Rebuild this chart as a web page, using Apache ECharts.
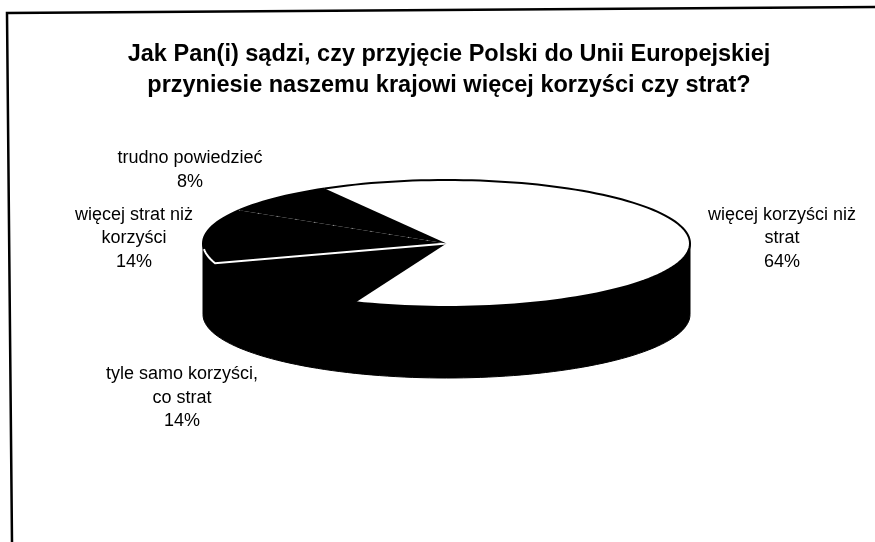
<!DOCTYPE html>
<html>
<head>
<meta charset="utf-8">
<style>
  html, body { margin: 0; padding: 0; background: #fff; }
  #chart { width: 875px; height: 542px; }
</style>
<script src="https://cdn.jsdelivr.net/npm/echarts@6/dist/echarts.min.js"></script>
</head>
<body>
<div id="chart"></div>
<script>
const titleLines = [
  'Jak Pan(i) sądzi, czy przyjęcie Polski do Unii Europejskiej',
  'przyniesie naszemu krajowi więcej korzyści czy strat?'
]
// in drawing order, clockwise from the top of the pie
const categories = [
  'więcej korzyści niż\nstrat',
  'tyle samo korzyści,\nco strat',
  'więcej strat niż\nkorzyści',
  'trudno powiedzieć'
]
// shares, the printed labels are these rounded
const shares = [64.4, 13.9, 13.8, 7.9]
const sliceColors = ['#ffffff', '#000000', '#000000', '#000000']

// label centres in pixels
const labelCentres = [[782, 238.5], [182, 398], [134, 238.5], [190, 170]]

const startAngle = 120   // degrees, slices run clockwise
const pieDepth = 1.12    // wall height, in units of the vertical radius

const rad = (d) => d * Math.PI / 180
const total = shares.reduce((a, b) => a + b, 0)

const chart = echarts.init(document.getElementById('chart'), null, { renderer: 'canvas' })

function arcPoints(api, from, to, drop) {
  const pts = []
  const steps = Math.max(2, Math.ceil(Math.abs(to - from) / 2))
  for (let i = 0; i <= steps; i++) {
    const t = rad(from + (to - from) * i / steps)
    pts.push(api.coord([Math.cos(t), Math.sin(t) - drop]))
  }
  return pts
}

function wallItem(params, api) {
  // whole front half of the rim pushed down by the depth
  const top = arcPoints(api, 180, 360, 0)
  const bottom = arcPoints(api, 360, 180, pieDepth)
  return {
    type: 'polygon',
    shape: { points: top.concat(bottom) },
    style: { fill: '#000', stroke: '#000', lineWidth: 1 }
  }
}

function sliceItem(params, api) {
  const i = params.dataIndex
  const before = shares.slice(0, i).reduce((a, b) => a + b, 0)
  const from = startAngle - before / total * 360
  const to = from - api.value(1) / total * 360
  const apex = api.coord([0, 0])
  const children = [{
    type: 'polygon',
    shape: { points: [apex].concat(arcPoints(api, from, to, 0)) },
    style: { fill: sliceColors[i], stroke: 'none' }
  }, {
    type: 'polyline',
    shape: { points: arcPoints(api, from, to, 0) },
    style: { fill: 'none', stroke: '#000', lineWidth: 2 }
  }, {
    type: 'text',
    style: {
      x: labelCentres[i][0],
      y: labelCentres[i][1],
      text: categories[i] + '\n' + Math.round(api.value(1)) + '%',
      align: 'center',
      verticalAlign: 'middle',
      fill: '#000',
      font: '18px "Liberation Sans", Arial, sans-serif',
      lineHeight: 23.5
    }
  }]
  if (i === 2) {
    // white edge the original has between the two lower black slices
    children.push({
      type: 'polyline',
      shape: { points: [apex].concat(arcPoints(api, from, from - 13, 0)) },
      style: { fill: 'none', stroke: '#fff', lineWidth: 2 }
    })
  }
  if (i === 3) {
    // only specks of this edge survive in the original
    children.push({
      type: 'polyline',
      shape: { points: [apex, arcPoints(api, from, from, 0)[0]] },
      style: { fill: 'none', stroke: '#fff', lineWidth: 1, lineDash: [1, 18], opacity: 0.5 }
    })
  }
  return { type: 'group', children }
}

chart.setOption({
  animation: false,
  backgroundColor: '#fff',
  title: {
    text: titleLines.join('\n'),
    left: 444,
    top: 34,
    textAlign: 'center',
    textStyle: {
      fontFamily: '"Liberation Sans", Arial, sans-serif',
      fontSize: 23.5,
      fontWeight: 'bold',
      color: '#000',
      lineHeight: 31
    }
  },
  // unit circle on these axes comes out as the flattened top of the pie
  grid: { left: 203, top: 180, width: 487, height: 198, containLabel: false },
  xAxis: { type: 'value', min: -1, max: 1, show: false },
  yAxis: { type: 'value', min: -1 - pieDepth, max: 1, show: false },
  graphic: [{
    type: 'polyline',
    silent: true,
    shape: { points: [[12, 542], [7, 13], [875, 7]] },
    style: { fill: 'none', stroke: '#000', lineWidth: 2.5 }
  }],
  series: [
    {
      name: 'wall',
      type: 'custom',
      coordinateSystem: 'cartesian2d',
      data: [[0, 0]],
      renderItem: wallItem,
      silent: true,
      z: 1
    },
    {
      name: 'slices',
      type: 'custom',
      coordinateSystem: 'cartesian2d',
      data: shares.map((v, i) => [i, v]),
      encode: { x: 0, y: 1 },
      clip: false,
      renderItem: sliceItem,
      silent: true,
      z: 2
    }
  ]
})

window.addEventListener('resize', () => chart.resize())
</script>
</body>
</html>
